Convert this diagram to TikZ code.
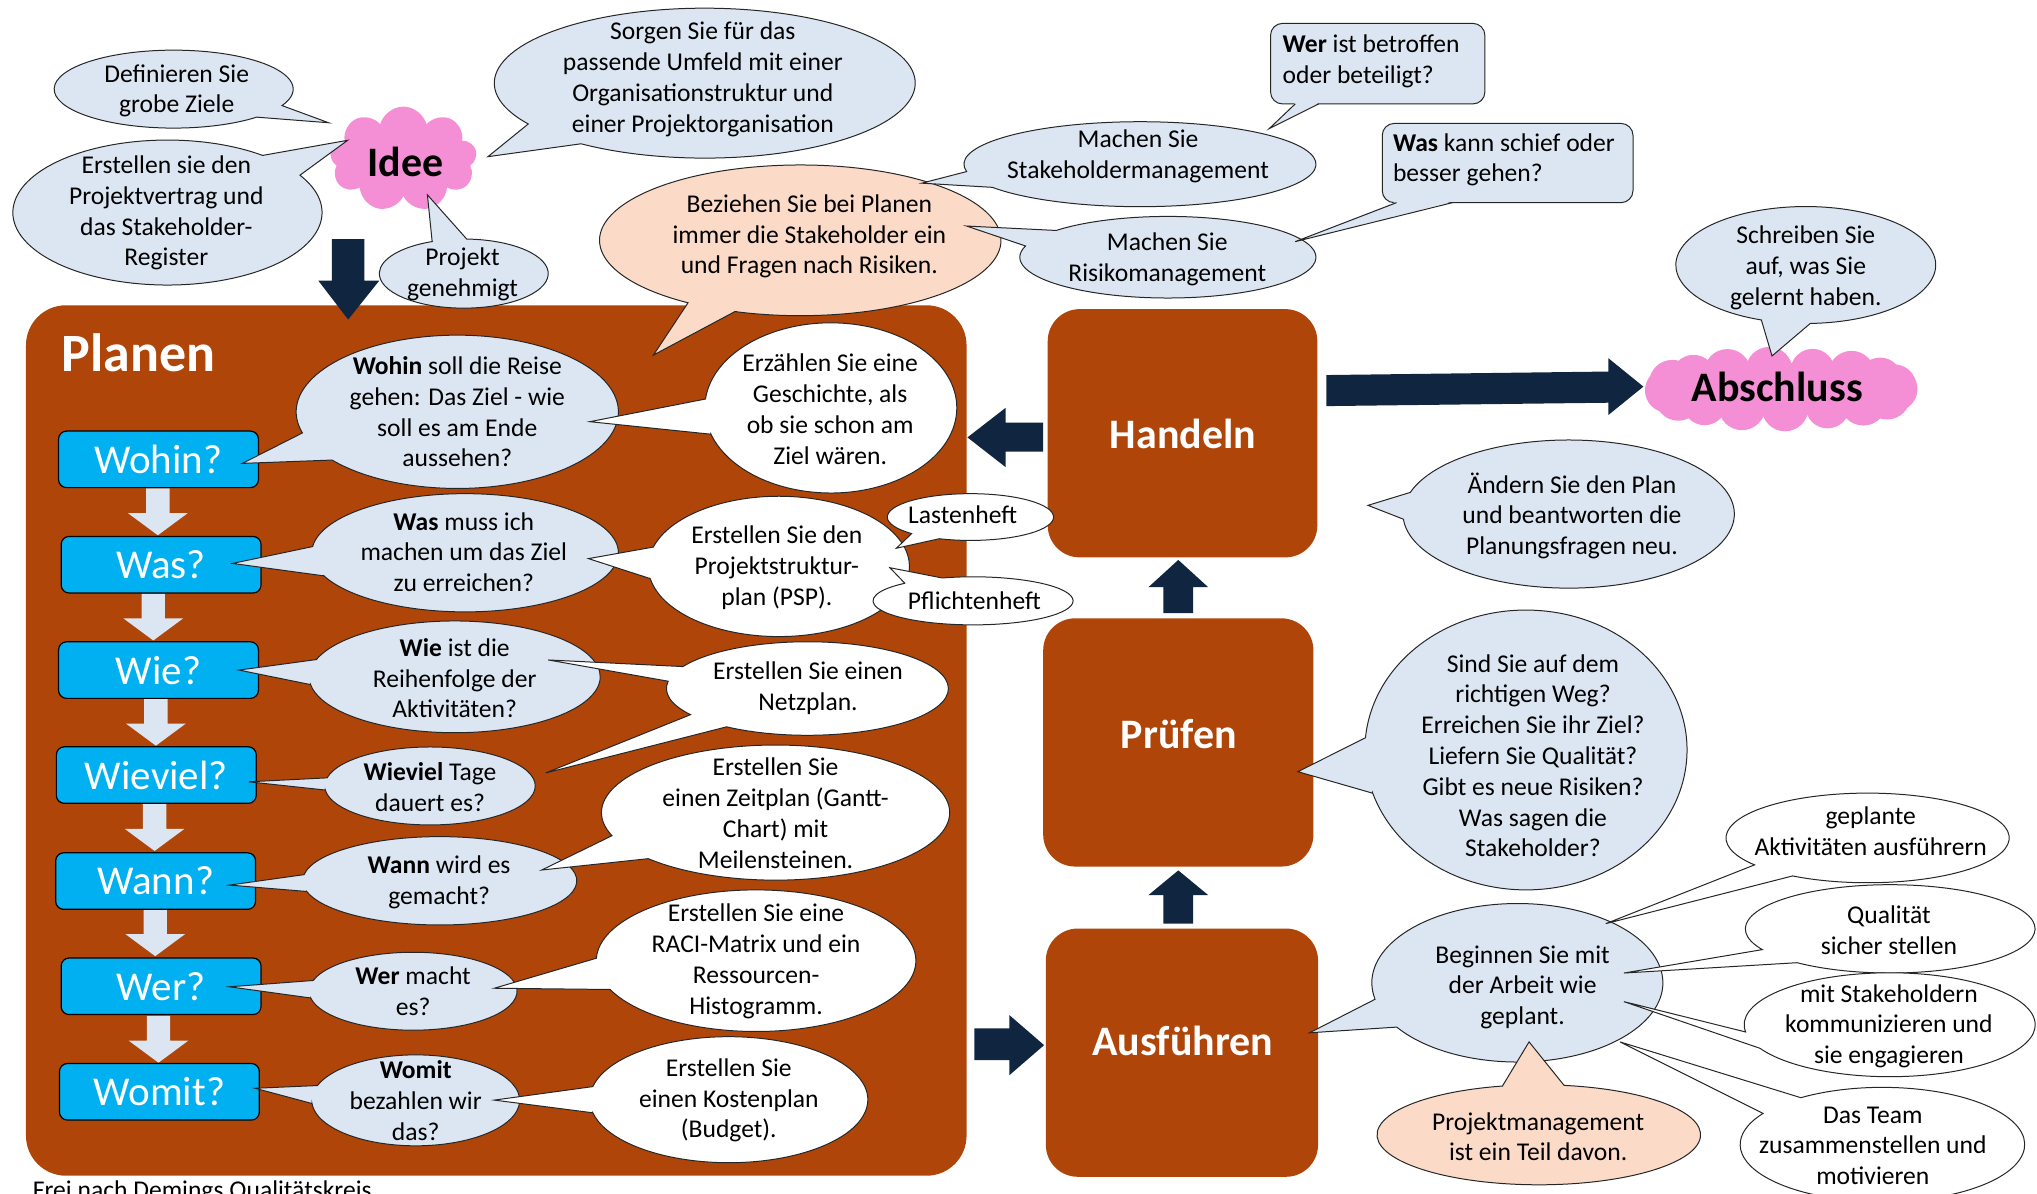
\documentclass[tikz,border=0pt]{standalone}
\usepackage{fontspec}
\setmainfont{Carlito}
\usetikzlibrary{shapes.symbols}
\definecolor{lblue}{HTML}{DCE6F2}
\definecolor{peach}{HTML}{FBDAC7}
\definecolor{pinkc}{HTML}{F48FD5}
\definecolor{brownc}{HTML}{AF4508}
\definecolor{navyc}{HTML}{10253F}
\definecolor{qcyan}{HTML}{00B0F0}
\definecolor{linec}{HTML}{262626}
\newcommand\fs{\fontsize{12.8}{15.4}\selectfont}
% bubble: style, cx, cy, rx, ry, base angle 1, base angle 2, tip x, tip y
\newcommand\bub[9]{%
  \path[#1] ({#2+#4*cos(#6)},{#3+#5*sin(#6)}) -- (#8,#9) --
    ({#2+#4*cos(#7)},{#3+#5*sin(#7)})
    arc[start angle=#7, delta angle={360-(#7)+(#6)}, x radius=#4, y radius=#5] -- cycle;}
% light down arrow: style, cx, top, tip
\newcommand\dnarrow[4]{%
  \path[#1] ({#2-9},#3) -- ({#2+9},#3) -- ({#2+9},{#4-17}) -- ({#2+23},{#4-17}) --
    (#2,#4) -- ({#2-23},{#4-17}) -- ({#2-9},{#4-17}) -- cycle;}
\begin{document}
\begin{tikzpicture}[x=0.65pt,y=-0.65pt,
  lbub/.style={fill=lblue, draw=linec, line width=0.5pt},
  wbub/.style={fill=white, draw=linec, line width=0.5pt},
  pbub/.style={fill=peach, draw=linec, line width=0.5pt},
  edge/.style={draw=linec, line width=0.5pt},
  txt/.style={font=\fs, align=center, inner sep=0pt, text=black},
  qbox/.style={rectangle, rounded corners=4pt, fill=qcyan, draw=black, line width=0.6pt,
    minimum width=100pt, minimum height=28.3pt, inner sep=0pt, text=white,
    font=\fontsize{20.5}{24}\selectfont},
  phasebox/.style={rectangle, rounded corners=16pt, fill=brownc, inner sep=0pt,
    minimum width=135pt, minimum height=124.2pt},
  phasetxt/.style={text=white, font=\bfseries\fontsize{21}{25}\selectfont, inner sep=0pt},
  navyfill/.style={fill=navyc},
  lightfill/.style={fill=lblue},
  pinkcloud/.style={cloud, fill=pinkc, cloud ignores aspect, inner sep=0pt},
  bigtxt/.style={font=\bfseries\fontsize{21}{25}\selectfont, inner sep=0pt, text=black}]
\useasboundingbox (0,0) rectangle (1568,919);
\clip (0,0) rectangle (1568,919);

% ---------------- Planen area ----------------
\node[rectangle, rounded corners=20pt, fill=brownc, minimum width=470.6pt, minimum height=435.5pt, inner sep=0pt] (planen) at (382,570) {};
\node[anchor=base west, font=\bfseries\fontsize{27}{32}\selectfont, text=white, inner sep=0pt] (planentitle) at (47,286) {Planen};

% light arrows between the questions
\dnarrow{lightfill}{121.5}{376}{412}
\dnarrow{lightfill}{118}{457}{493}
\dnarrow{lightfill}{120}{538}{574}
\dnarrow{lightfill}{119}{619}{655}
\dnarrow{lightfill}{119.5}{700}{736}
\dnarrow{lightfill}{122}{782}{818}

\node[qbox] (wohin) at (122,353.6) {Wohin?};
\node[qbox] (wasq) at (124,434.7) {Was?};
\node[qbox] (wie) at (122,515.8) {Wie?};
\node[qbox] (wieviel) at (120.3,596.6) {Wieviel?};
\node[qbox] (wann) at (119.8,678.2) {Wann?};
\node[qbox] (werq) at (124,759.2) {Wer?};
\node[qbox] (womit) at (122.7,840.4) {Womit?};

% light blue question bubbles
\bub{lbub}{352}{317}{124}{59}{141}{164}{186.5}{356.7}
\node[txt] (e1) at (352,317) {\textbf{Wohin} soll die Reise\\gehen: Das Ziel - wie\\soll es am Ende\\aussehen?};
\bub{lbub}{358}{425.5}{118}{45.5}{157}{186}{179}{433.7}
\node[txt] (e2) at (357,425) {\textbf{Was} muss ich\\machen um das Ziel\\zu erreichen?};
\bub{lbub}{350}{521}{112}{43}{172}{198}{184}{515.8}
\node[txt] (e3) at (350,522) {\textbf{Wie} ist die\\Reihenfolge der\\Aktivitäten?};
\bub{lbub}{331}{605}{81}{30}{174}{192}{191.5}{601.8}
\node[txt] (e4) at (331,606) {\textbf{Wieviel} Tage\\dauert es?};
\bub{lbub}{338.5}{678}{105.5}{34}{166}{188}{176.7}{681.3}
\node[txt] (e5) at (338,679) {\textbf{Wann} wird es\\gemacht?};
\bub{lbub}{318}{763}{80}{30}{170}{196}{176.7}{759.6}
\node[txt] (e6) at (318,763) {\textbf{Wer} macht\\es?};
\bub{lbub}{320}{847}{80}{35}{176}{199}{196.4}{837.7}
\node[txt] (e7) at (320,847) {\textbf{Womit}\\bezahlen wir\\das?};

% white answer bubbles
\bub{wbub}{639.5}{314}{97}{65.5}{162}{186}{454}{324.6}
\node[txt] (w1) at (639,315) {Erzählen Sie eine\\Geschichte, als\\ob sie schon am\\Ziel wären.};
\bub{wbub}{599.5}{436}{100.5}{54}{170}{196}{453}{430}
\node[txt] (w2) at (598,437) {Erstellen Sie den\\Projektstruktur-\\plan (PSP).};
\path[wbub] ({621.5+108.5*cos(125)},{530+36*sin(125)}) -- (420,595) --
  ({621.5+108.5*cos(146)},{530+36*sin(146)})
  arc[start angle=146, end angle=189, x radius=108.5, y radius=36] -- (422,508) --
  ({621.5+108.5*cos(208)},{530+36*sin(208)})
  arc[start angle=208, end angle=485, x radius=108.5, y radius=36] -- cycle;
\node[txt] (w3) at (622,530) {Erstellen Sie einen\\Netzplan.};
\bub{wbub}{597}{625.5}{134}{52}{137}{160}{417}{669.7}
\node[txt] (w4) at (597,626) {Erstellen Sie\\einen Zeitplan (Gantt-\\Chart) mit\\Meilensteinen.};
\bub{wbub}{582}{739.5}{123}{54.5}{156}{182}{380.5}{760.7}
\node[txt] (w5) at (582,740) {Erstellen Sie eine\\RACI-Matrix und ein\\Ressourcen-\\Histogramm.};
\bub{wbub}{561}{846.5}{107}{48.5}{168}{192}{380.5}{846.8}
\node[txt] (w6) at (561,847) {Erstellen Sie\\einen Kostenplan\\(Budget).};

% ---------------- PDCA boxes ----------------
\node[phasebox, minimum width=134.9pt] (handelnbox) at (910.25,333.5) {};
\node[phasebox, minimum width=135.2pt] (pruefenbox) at (907,571.5) {};
\node[phasebox, minimum width=136.2pt] (ausfbox) at (909.8,810.3) {};
\node[phasetxt] (handeln) at (910.6,334) {Handeln};
\node[phasetxt] (pruefen) at (907.5,565) {Prüfen};
\node[phasetxt] (ausf) at (910.5,801) {Ausführen};

% navy block arrows
\path[navyfill] (895.5,472) -- (918.5,472) -- (918.5,452) -- (930,452) -- (907,431) -- (884,452) -- (895.5,452) -- cycle;
\path[navyfill] (895.5,711) -- (918.5,711) -- (918.5,689) -- (930,689) -- (907,670) -- (884,689) -- (895.5,689) -- cycle;
\path[navyfill] (803,325.4) -- (803,347.7) -- (774,347.7) -- (774,359.5) -- (744.7,336.7) -- (774,314) -- (774,325.4) -- cycle;
\path[navyfill] (750,791.5) -- (777,791.5) -- (777,781.4) -- (803.7,804.5) -- (777,827.6) -- (777,816) -- (750,816) -- cycle;
\path[navyfill] (1021,288.7) -- (1238,286) -- (1238,275.7) -- (1265,297.6) -- (1238,319.5) -- (1238,310) -- (1021,312.6) -- cycle;

% Lastenheft / Pflichtenheft
\bub{wbub}{747}{398}{64}{18}{112}{135}{690}{422}
\node[txt] (lasten) at (741,396) {Lastenheft};
\bub{wbub}{749}{462.5}{77}{18.5}{-133}{-108}{685}{437}
\node[txt] (pflichten) at (750,462.5) {Pflichtenheft};

% ---------------- top middle ----------------
\bub{pbub}{616}{185}{154.5}{58}{109}{124}{503}{273.3}
\node[txt] (beziehen) at (623,182) {Beziehen Sie bei Planen\\immer die Stakeholder ein\\und Fragen nach Risiken.};
\bub{lbub}{877.5}{126.4}{135.5}{32.7}{147}{170}{709.5}{141}
\node[txt] (stake) at (876,120.5) {Machen Sie\\Stakeholdermanagement};
\bub{lbub}{899}{198}{114}{31.4}{196}{221}{744}{174}
\node[txt] (risiko) at (898.5,199.5) {Machen Sie\\Risikomanagement};

\path[lbub, rounded corners=6pt] (978,18) rectangle (1143,80);
\fill[lblue] (997,79.2) -- (977,99) -- (1015,79.2) -- cycle;
\draw[edge] (997,80) -- (977,99) -- (1015,80);
\node[txt, align=left, anchor=west] (wer) at (987,47) {\textbf{Wer} ist betroffen\\oder beteiligt?};
\path[lbub, rounded corners=6pt] (1064,95) rectangle (1257,156);
\fill[lblue] (1075,155.2) -- (997,186) -- (1118,155.2) -- cycle;
\draw[edge] (1075,156) -- (997,186) -- (1118,156);
\node[txt, align=left, anchor=west] (wask) at (1072,123) {\textbf{Was} kann schief oder\\besser gehen?};

% ---------------- top left ----------------
\path[navyfill] (255.5,184) -- (280.5,184) -- (280.5,216) -- (292,216) -- (268,246) -- (245,216) -- (255.5,216) -- cycle;
\node[pinkcloud, cloud puffs=9, minimum width=73.5pt, minimum height=52.6pt] (ideecloud) at (310.5,122.5) {};
\node[bigtxt] (idee) at (312,124.4) {Idee};
\bub{lbub}{133.7}{68.6}{92}{30}{25}{46}{253}{94.5}
\node[txt] (definieren) at (136,70) {Definieren Sie\\grobe Ziele};
\bub{lbub}{128.9}{163.6}{119}{55.8}{-52}{-31}{267.6}{108}
\node[txt] (vertrag) at (128,164) {Erstellen sie den\\Projektvertrag und\\das Stakeholder-\\Register};
\bub{lbub}{542.5}{64}{162}{57.7}{126}{147}{375.6}{120.6}
\node[txt] (umfeld) at (541,61) {Sorgen Sie für das\\passende Umfeld mit einer\\Organisationstruktur und\\einer Projektorganisation};
\bub{lbub}{357}{210.6}{65}{26.6}{-112}{-88}{329}{150}
\node[txt] (genehmigt) at (356,211) {Projekt\\genehmigt};

% ---------------- right side ----------------
% Abschluss cloud built from overlapping puffs
\fill[pinkc] (1371,299.5) ellipse[x radius=92, y radius=20];
\foreach \t/\r in {0/17,22/18,44/18,66/17,88/18,110/18,132/17,154/18,176/17,198/18,220/17,242/18,264/18,286/17,308/18,330/17,352/17}
  \fill[pinkc] ({1371+88*cos(\t)},{299.5+14.5*sin(\t)}) circle[radius=\r];
\node[bigtxt] (abschluss) at (1368,297.7) {Abschluss};
\bub{lbub}{1390}{204}{100}{45}{88}{110}{1364}{274}
\node[txt] (schreiben) at (1390,206) {Schreiben Sie\\auf, was Sie\\gelernt haben.};
\bub{lbub}{1207.5}{395.7}{127.5}{57}{176}{197}{1053}{389}
\node[txt] (aendern) at (1210,397) {Ändern Sie den Plan\\und beantworten die\\Planungsfragen neu.};
\bub{lbub}{1174.6}{577.3}{124}{107.7}{162}{185}{999}{594}
\node[txt] (sind) at (1180,581.7) {Sind Sie auf dem\\richtigen Weg?\\Erreichen Sie ihr Ziel?\\Liefern Sie Qualität?\\Gibt es neue Risiken?\\Was sagen die\\Stakeholder?};
\bub{lbub}{1168}{756.5}{112}{61}{146}{168}{1008}{795}
\node[txt] (beginnen) at (1172,760) {Beginnen Sie mit\\der Arbeit wie\\geplant.};
\bub{pbub}{1184.5}{873.5}{124.5}{38.5}{-103}{-81}{1177}{802}
\node[txt] (pm) at (1184,875) {Projektmanagement\\ist ein Teil davon.};
\bub{wbub}{1437.6}{645}{109}{34.5}{122}{143}{1236}{711}
\node[txt] (geplante) at (1440,640) {geplante\\Aktivitäten ausführern};
\bub{wbub}{1455}{715}{111.5}{34}{130}{152}{1250}{749}
\node[txt] (qualitaet) at (1454,716) {Qualität\\sicher stellen};
\bub{wbub}{1454.6}{788.8}{112}{40}{153}{172}{1250}{771}
\node[txt] (kommun) at (1454,790) {mit Stakeholdern\\kommunizieren und\\sie engagieren};
\bub{wbub}{1449}{881}{109.5}{44}{-147}{-125}{1247}{802}
\node[txt] (team) at (1441.6,882) {Das Team\\zusammenstellen und\\motivieren};

% caption
\node[anchor=base west, font=\fs, inner sep=0pt] (caption) at (25,922.4) {Frei nach Demings Qualitätskreis};
\end{tikzpicture}
\end{document}
